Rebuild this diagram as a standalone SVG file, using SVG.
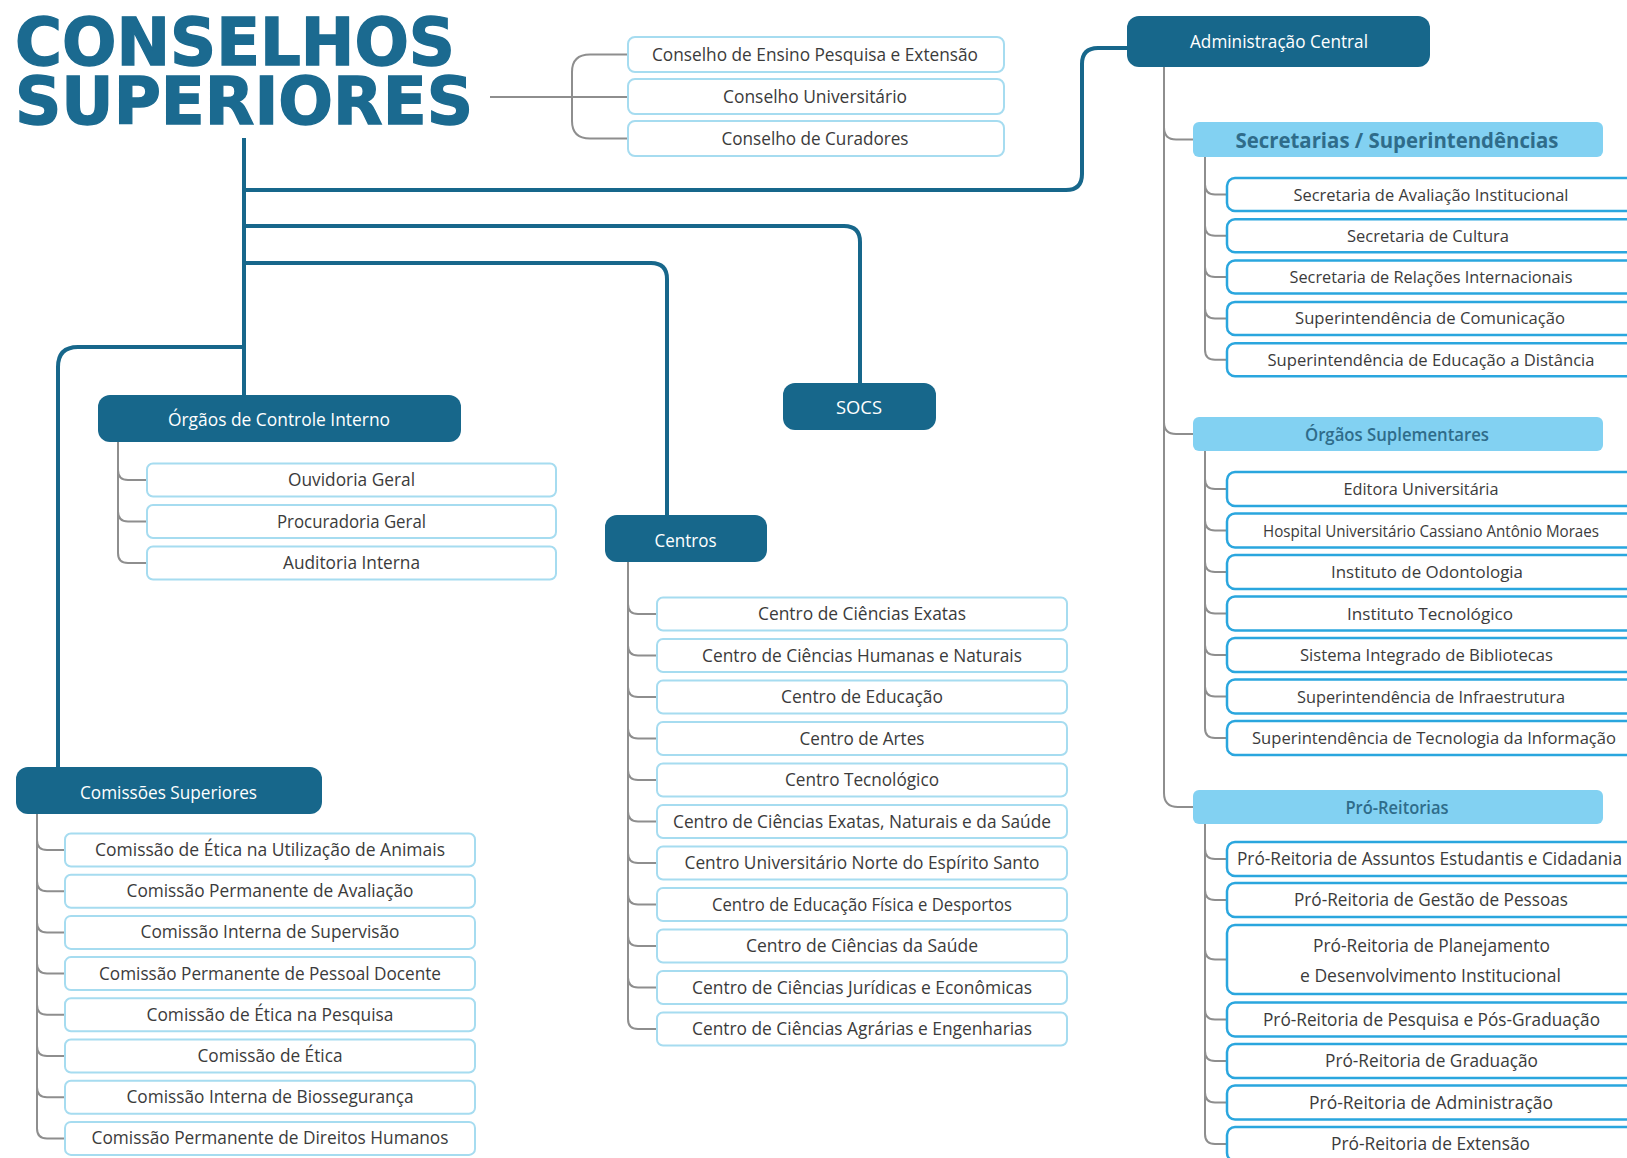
<svg xmlns="http://www.w3.org/2000/svg" width="1627" height="1158" viewBox="0 0 1627 1158">
<style>
.title{font-family:"DejaVu Sans","Open Sans","Liberation Sans",sans-serif;font-weight:700;font-size:66px;fill:#1b6a90;stroke:#1b6a90;stroke-width:1.4}
.dk rect{fill:#17678b}
.dk text{fill:#ffffff;font-family:"Open Sans","Liberation Sans",sans-serif;font-size:18px;text-anchor:middle}
.it rect{fill:#ffffff;stroke:#a6dcf0;stroke-width:2}
.it text,.rt text{fill:#3b3b3b;font-family:"Open Sans","Liberation Sans",sans-serif;font-size:17.5px;text-anchor:middle}
.rt text.cn{font-size:16.5px}
.rt rect{fill:#ffffff;stroke:#2aa6de;stroke-width:2.5}
.hd rect{fill:#82d1f2}
.hd text{fill:#2f6c8a;font-family:"Open Sans","Liberation Sans",sans-serif;font-weight:600;font-size:18px;text-anchor:middle}
.blue{stroke:#17678b;stroke-width:4;fill:none}
.gray{stroke:#8e8e8e;stroke-width:2;fill:none}
</style>
<rect x="0" y="0" width="1627" height="1158" fill="#ffffff"/>

<g id="connectors">
  <path class="blue" d="M244,138 L244,395"/>
  <path class="blue" d="M244,190 L1066,190 Q1082,190 1082,174 L1082,64 Q1082,48 1098,48 L1127,48"/>
  <path class="blue" d="M244,226 L844,226 Q860,226 860,242 L860,383"/>
  <path class="blue" d="M244,263 L651,263 Q667,263 667,279 L667,515"/>
  <path class="blue" d="M244,347 L78,347 Q58,347 58,367 L58,767"/>
  <path class="gray" d="M490,97 L628,97"/>
  <path class="gray" d="M628,54.5 L590,54.5 Q572,54.5 572,72 L572,121 Q572,138.5 590,138.5 L628,138.5"/>
  <path class="gray" d="M118,442 L118,553 Q118,563 128,563 L147,563 M118,470 Q118,480 128,480 L147,480 M118,511.5 Q118,521.5 128,521.5 L147,521.5"/>
  <path class="gray" d="M628,562 L628,1019 Q628,1029 638,1029 L657,1029
    M628,604 Q628,614 638,614 L657,614
    M628,645.5 Q628,655.5 638,655.5 L657,655.5
    M628,687 Q628,697 638,697 L657,697
    M628,728.5 Q628,738.5 638,738.5 L657,738.5
    M628,770 Q628,780 638,780 L657,780
    M628,811.5 Q628,821.5 638,821.5 L657,821.5
    M628,853 Q628,863 638,863 L657,863
    M628,894.5 Q628,904.5 638,904.5 L657,904.5
    M628,936 Q628,946 638,946 L657,946
    M628,977.5 Q628,987.5 638,987.5 L657,987.5"/>
  <path class="gray" d="M37,814 L37,1128.4 Q37,1138.4 47,1138.4 L65,1138.4
    M37,840 Q37,850 47,850 L65,850
    M37,881.2 Q37,891.2 47,891.2 L65,891.2
    M37,922.4 Q37,932.4 47,932.4 L65,932.4
    M37,963.6 Q37,973.6 47,973.6 L65,973.6
    M37,1004.8 Q37,1014.8 47,1014.8 L65,1014.8
    M37,1046 Q37,1056 47,1056 L65,1056
    M37,1087.2 Q37,1097.2 47,1097.2 L65,1097.2"/>
  <path class="gray" d="M1164,67 L1164,793 Q1164,807 1178,807 L1193,807
    M1164,127 Q1164,139.5 1176,139.5 L1193,139.5
    M1164,422 Q1164,434 1176,434 L1193,434"/>
  <path class="gray" d="M1205,157 L1205,349.7 Q1205,359.7 1215,359.7 L1227,359.7
    M1205,184.5 Q1205,194.5 1215,194.5 L1227,194.5
    M1205,225.8 Q1205,235.8 1215,235.8 L1227,235.8
    M1205,267.1 Q1205,277.1 1215,277.1 L1227,277.1
    M1205,308.4 Q1205,318.4 1215,318.4 L1227,318.4"/>
  <path class="gray" d="M1205,451 L1205,728 Q1205,738 1215,738 L1227,738
    M1205,479 Q1205,489 1215,489 L1227,489
    M1205,520.5 Q1205,530.5 1215,530.5 L1227,530.5
    M1205,562 Q1205,572 1215,572 L1227,572
    M1205,603.5 Q1205,613.5 1215,613.5 L1227,613.5
    M1205,645 Q1205,655 1215,655 L1227,655
    M1205,686.5 Q1205,696.5 1215,696.5 L1227,696.5"/>
  <path class="gray" d="M1205,824 L1205,1134 Q1205,1144 1215,1144 L1227,1144
    M1205,849 Q1205,859 1215,859 L1227,859
    M1205,890 Q1205,900 1215,900 L1227,900
    M1205,949.5 Q1205,959.5 1215,959.5 L1227,959.5
    M1205,1009.5 Q1205,1019.5 1215,1019.5 L1227,1019.5
    M1205,1051 Q1205,1061 1215,1061 L1227,1061
    M1205,1092.5 Q1205,1102.5 1215,1102.5 L1227,1102.5"/>
</g>

<g id="conselhos-superiores">
  <text class="title" lengthAdjust="spacingAndGlyphs"><tspan x="15" y="65" textLength="440" lengthAdjust="spacingAndGlyphs">CONSELHOS</tspan><tspan x="15" y="124" textLength="458" lengthAdjust="spacingAndGlyphs">SUPERIORES</tspan></text>
</g>

<g id="conselho-ensino" class="it"><rect x="628" y="37" width="376" height="35" rx="7"/><text x="815" y="60.5" textLength="326" lengthAdjust="spacingAndGlyphs">Conselho de Ensino Pesquisa e Extensão</text></g>
<g id="conselho-universitario" class="it"><rect x="628" y="79" width="376" height="35" rx="7"/><text x="815" y="102.5" textLength="184" lengthAdjust="spacingAndGlyphs">Conselho Universitário</text></g>
<g id="conselho-curadores" class="it"><rect x="628" y="121" width="376" height="35" rx="7"/><text x="815" y="144.5" textLength="187" lengthAdjust="spacingAndGlyphs">Conselho de Curadores</text></g>

<g id="administracao-central" class="dk"><rect x="1127" y="16" width="303" height="51" rx="12"/><text x="1279" y="48" textLength="178" lengthAdjust="spacingAndGlyphs">Administração Central</text></g>
<g id="orgaos-controle" class="dk"><rect x="98" y="395" width="363" height="47" rx="12"/><text x="279" y="425.5" textLength="222" lengthAdjust="spacingAndGlyphs">Órgãos de Controle Interno</text></g>
<g id="socs" class="dk"><rect x="783" y="383" width="153" height="47" rx="12"/><text x="859" y="413.5" textLength="46" lengthAdjust="spacingAndGlyphs">SOCS</text></g>
<g id="centros" class="dk"><rect x="605" y="515" width="162" height="47" rx="12"/><text x="685.5" y="546.5" textLength="62" lengthAdjust="spacingAndGlyphs">Centros</text></g>
<g id="comissoes" class="dk"><rect x="16" y="767" width="306" height="47" rx="12"/><text x="168.5" y="798.5" textLength="177" lengthAdjust="spacingAndGlyphs">Comissões Superiores</text></g>

<g id="ouvidoria" class="it"><rect x="147" y="463.5" width="409" height="33" rx="6"/><text x="351.5" y="486" textLength="127" lengthAdjust="spacingAndGlyphs">Ouvidoria Geral</text></g>
<g id="procuradoria" class="it"><rect x="147" y="505" width="409" height="33" rx="6"/><text x="351.5" y="527.5" textLength="149" lengthAdjust="spacingAndGlyphs">Procuradoria Geral</text></g>
<g id="auditoria" class="it"><rect x="147" y="546.5" width="409" height="33" rx="6"/><text x="351.5" y="569" textLength="137" lengthAdjust="spacingAndGlyphs">Auditoria Interna</text></g>

<g id="cce" class="it"><rect x="657" y="597.5" width="410" height="33" rx="6"/><text x="862" y="620" textLength="208" lengthAdjust="spacingAndGlyphs">Centro de Ciências Exatas</text></g>
<g id="cchn" class="it"><rect x="657" y="639" width="410" height="33" rx="6"/><text x="862" y="661.5" textLength="320" lengthAdjust="spacingAndGlyphs">Centro de Ciências Humanas e Naturais</text></g>
<g id="ce" class="it"><rect x="657" y="680.5" width="410" height="33" rx="6"/><text x="862" y="703" textLength="162" lengthAdjust="spacingAndGlyphs">Centro de Educação</text></g>
<g id="car" class="it"><rect x="657" y="722" width="410" height="33" rx="6"/><text x="862" y="744.5" textLength="125" lengthAdjust="spacingAndGlyphs">Centro de Artes</text></g>
<g id="ct" class="it"><rect x="657" y="763.5" width="410" height="33" rx="6"/><text x="862" y="786" textLength="154" lengthAdjust="spacingAndGlyphs">Centro Tecnológico</text></g>
<g id="ceuns" class="it"><rect x="657" y="805" width="410" height="33" rx="6"/><text x="862" y="827.5" textLength="378" lengthAdjust="spacingAndGlyphs">Centro de Ciências Exatas, Naturais e da Saúde</text></g>
<g id="ceunes" class="it"><rect x="657" y="846.5" width="410" height="33" rx="6"/><text x="862" y="869" textLength="355" lengthAdjust="spacingAndGlyphs">Centro Universitário Norte do Espírito Santo</text></g>
<g id="cefd" class="it"><rect x="657" y="888" width="410" height="33" rx="6"/><text x="862" y="910.5" textLength="300" lengthAdjust="spacingAndGlyphs">Centro de Educação Física e Desportos</text></g>
<g id="ccs" class="it"><rect x="657" y="929.5" width="410" height="33" rx="6"/><text x="862" y="952" textLength="232" lengthAdjust="spacingAndGlyphs">Centro de Ciências da Saúde</text></g>
<g id="ccje" class="it"><rect x="657" y="971" width="410" height="33" rx="6"/><text x="862" y="993.5" textLength="340" lengthAdjust="spacingAndGlyphs">Centro de Ciências Jurídicas e Econômicas</text></g>
<g id="ccae" class="it"><rect x="657" y="1012.5" width="410" height="33" rx="6"/><text x="862" y="1035" textLength="340" lengthAdjust="spacingAndGlyphs">Centro de Ciências Agrárias e Engenharias</text></g>

<g id="ceua" class="it"><rect x="65" y="833.5" width="410" height="33" rx="6"/><text x="270" y="856" textLength="350" lengthAdjust="spacingAndGlyphs">Comissão de Ética na Utilização de Animais</text></g>
<g id="cpa" class="it"><rect x="65" y="874.7" width="410" height="33" rx="6"/><text x="270" y="897.2" textLength="287" lengthAdjust="spacingAndGlyphs">Comissão Permanente de Avaliação</text></g>
<g id="cis" class="it"><rect x="65" y="915.9" width="410" height="33" rx="6"/><text x="270" y="938.4" textLength="259" lengthAdjust="spacingAndGlyphs">Comissão Interna de Supervisão</text></g>
<g id="cppd" class="it"><rect x="65" y="957.1" width="410" height="33" rx="6"/><text x="270" y="979.6" textLength="342" lengthAdjust="spacingAndGlyphs">Comissão Permanente de Pessoal Docente</text></g>
<g id="cep" class="it"><rect x="65" y="998.3" width="410" height="33" rx="6"/><text x="270" y="1020.8" textLength="247" lengthAdjust="spacingAndGlyphs">Comissão de Ética na Pesquisa</text></g>
<g id="cet" class="it"><rect x="65" y="1039.5" width="410" height="33" rx="6"/><text x="270" y="1062" textLength="145" lengthAdjust="spacingAndGlyphs">Comissão de Ética</text></g>
<g id="cib" class="it"><rect x="65" y="1080.7" width="410" height="33" rx="6"/><text x="270" y="1103.2" textLength="287" lengthAdjust="spacingAndGlyphs">Comissão Interna de Biossegurança</text></g>
<g id="cpdh" class="it"><rect x="65" y="1121.9" width="410" height="33" rx="6"/><text x="270" y="1144.4" textLength="357" lengthAdjust="spacingAndGlyphs">Comissão Permanente de Direitos Humanos</text></g>

<g id="secretarias" class="hd"><rect x="1193" y="122" width="410" height="35" rx="6"/><text x="1397" y="147.5" style="font-size:22px;font-weight:700" textLength="323" lengthAdjust="spacingAndGlyphs">Secretarias / Superintendências</text></g>
<g id="seavin" class="rt"><rect x="1227" y="178" width="420" height="33" rx="8"/><text class="cn" x="1431" y="200.5" textLength="275" lengthAdjust="spacingAndGlyphs">Secretaria de Avaliação Institucional</text></g>
<g id="secult" class="rt"><rect x="1227" y="219.3" width="420" height="33" rx="8"/><text class="cn" x="1428" y="241.8" textLength="162" lengthAdjust="spacingAndGlyphs">Secretaria de Cultura</text></g>
<g id="sri" class="rt"><rect x="1227" y="260.6" width="420" height="33" rx="8"/><text class="cn" x="1431" y="283.1" textLength="283" lengthAdjust="spacingAndGlyphs">Secretaria de Relações Internacionais</text></g>
<g id="supcc" class="rt"><rect x="1227" y="301.9" width="420" height="33" rx="8"/><text class="cn" x="1430" y="324.4" textLength="270" lengthAdjust="spacingAndGlyphs">Superintendência de Comunicação</text></g>
<g id="sead" class="rt"><rect x="1227" y="343.2" width="420" height="33" rx="8"/><text class="cn" x="1431" y="365.7" textLength="327" lengthAdjust="spacingAndGlyphs">Superintendência de Educação a Distância</text></g>

<g id="orgaos-suplementares" class="hd"><rect x="1193" y="417" width="410" height="34" rx="6"/><text x="1397" y="440.5" textLength="184" lengthAdjust="spacingAndGlyphs">Órgãos Suplementares</text></g>
<g id="edufes" class="rt"><rect x="1227" y="472" width="420" height="34" rx="8"/><text class="cn" x="1421" y="495" textLength="155" lengthAdjust="spacingAndGlyphs">Editora Universitária</text></g>
<g id="hucam" class="rt"><rect x="1227" y="513.5" width="420" height="34" rx="8"/><text class="cn" x="1431" y="536.5" textLength="336" lengthAdjust="spacingAndGlyphs">Hospital Universitário Cassiano Antônio Moraes</text></g>
<g id="ios" class="rt"><rect x="1227" y="555" width="420" height="34" rx="8"/><text class="cn" x="1427" y="578" textLength="192" lengthAdjust="spacingAndGlyphs">Instituto de Odontologia</text></g>
<g id="itufes" class="rt"><rect x="1227" y="596.5" width="420" height="34" rx="8"/><text class="cn" x="1430" y="619.5" textLength="166" lengthAdjust="spacingAndGlyphs">Instituto Tecnológico</text></g>
<g id="sib" class="rt"><rect x="1227" y="638" width="420" height="34" rx="8"/><text class="cn" x="1426.5" y="661" textLength="253" lengthAdjust="spacingAndGlyphs">Sistema Integrado de Bibliotecas</text></g>
<g id="si" class="rt"><rect x="1227" y="679.5" width="420" height="34" rx="8"/><text class="cn" x="1431" y="702.5" textLength="268" lengthAdjust="spacingAndGlyphs">Superintendência de Infraestrutura</text></g>
<g id="sti" class="rt"><rect x="1227" y="721" width="420" height="34" rx="8"/><text class="cn" x="1434" y="744" textLength="364" lengthAdjust="spacingAndGlyphs">Superintendência de Tecnologia da Informação</text></g>

<g id="pro-reitorias" class="hd"><rect x="1193" y="790" width="410" height="34" rx="6"/><text x="1397" y="813.5" textLength="103" lengthAdjust="spacingAndGlyphs">Pró-Reitorias</text></g>
<g id="proaeci" class="rt"><rect x="1227" y="842" width="420" height="34" rx="8"/><text x="1429.5" y="865" textLength="385" lengthAdjust="spacingAndGlyphs">Pró-Reitoria de Assuntos Estudantis e Cidadania</text></g>
<g id="progep" class="rt"><rect x="1227" y="883" width="420" height="34" rx="8"/><text x="1431" y="906" textLength="274" lengthAdjust="spacingAndGlyphs">Pró-Reitoria de Gestão de Pessoas</text></g>
<g id="proplan" class="rt"><rect x="1227" y="925" width="420" height="69" rx="8"/><text x="1431.5" y="952" textLength="237" lengthAdjust="spacingAndGlyphs">Pró-Reitoria de Planejamento</text><text x="1430.5" y="981.5" textLength="261" lengthAdjust="spacingAndGlyphs">e Desenvolvimento Institucional</text></g>
<g id="prppg" class="rt"><rect x="1227" y="1002.5" width="420" height="34" rx="8"/><text x="1431.5" y="1025.5" textLength="337" lengthAdjust="spacingAndGlyphs">Pró-Reitoria de Pesquisa e Pós-Graduação</text></g>
<g id="prograd" class="rt"><rect x="1227" y="1044" width="420" height="34" rx="8"/><text x="1431.5" y="1067" textLength="213" lengthAdjust="spacingAndGlyphs">Pró-Reitoria de Graduação</text></g>
<g id="proad" class="rt"><rect x="1227" y="1085.5" width="420" height="34" rx="8"/><text x="1431" y="1108.5" textLength="244" lengthAdjust="spacingAndGlyphs">Pró-Reitoria de Administração</text></g>
<g id="proex" class="rt"><rect x="1227" y="1127" width="420" height="34" rx="8"/><text x="1430.5" y="1150" textLength="199" lengthAdjust="spacingAndGlyphs">Pró-Reitoria de Extensão</text></g>
</svg>
